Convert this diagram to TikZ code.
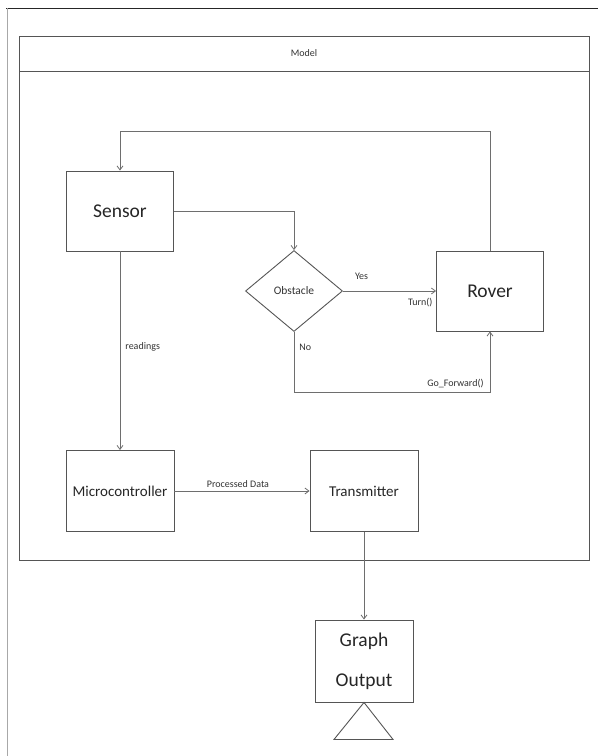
\documentclass[tikz,border=0pt]{standalone}
\usepackage{fontspec}
\setmainfont{Carlito}
\usetikzlibrary{arrows.meta, shapes.geometric, calc}
\definecolor{edgegray}{HTML}{555555}
\definecolor{linegray}{HTML}{6E6E6E}
\definecolor{framegray}{HTML}{A8A8A8}

\begin{document}
\begin{tikzpicture}[x=1pt,y=-1pt,
		box/.style={draw=edgegray, line width=0.9pt, rectangle, inner sep=0pt, text=black!85},
		bigtext/.style={font=\fontsize{19.5}{40}\selectfont},
		midtext/.style={font=\fontsize{15}{18}\selectfont},
		arr/.style={draw=linegray, line width=0.8pt, -{Straight Barb[length=4pt,width=6pt]}},
		lbl/.style={font=\fontsize{10}{12}\selectfont, text=black!80, inner sep=1pt}]
		\useasboundingbox (0,0) rectangle (598,756);
		%draw outer frame
		\draw[black!85, line width=0.9pt] (6,8) -- (598,8);
		\draw[framegray, line width=1pt] (7,8) -- (7,756);
		%draw model frame
		\draw[edgegray, line width=0.9pt] (19,36) rectangle (589,560);
		\draw[edgegray, line width=0.9pt] (19,71) -- (589,71);
		\node[lbl] (model) at (304,53) {Model};
		%draw nodes
		\node[box, bigtext, minimum width=107, minimum height=80] (sensor) at (120,211) {Sensor};
		\node[draw=edgegray, line width=0.9pt, diamond, aspect=1.2, minimum width=97, minimum height=81, inner sep=0pt,
			font=\fontsize{11.5}{14}\selectfont, text=black!80] (obstacle) at (294,291) {Obstacle};
		\node[box, bigtext, minimum width=107, minimum height=80] (rover) at (490,291) {Rover};
		\node[box, midtext, minimum width=108, minimum height=81] (micro) at (120,491) {Microcontroller};
		\node[box, midtext, minimum width=108, minimum height=81] (trans) at (364,491) {Transmitter};
		\node[box, bigtext, align=center, minimum width=98, minimum height=82] (graph) at (364,661) {Graph\\Output};
		%draw stand
		\draw[edgegray, line width=0.9pt] (graph.south) -- ++(29,37) -- ++(-59,0) -- cycle;
		%draw arrows
		\draw[arr] (rover.north) -- ++(0,-119) -| (sensor.north);
		\draw[arr] (sensor.east) -| (obstacle.north);
		\draw[arr] (obstacle.east) -- node[lbl, pos=0.2, above=10pt] {Yes}
			node[lbl, pos=0.83, below=6pt] {Turn()} (rover.west);
		\draw[arr] (obstacle.south) -- node[lbl, pos=0.25, right=4pt] {No} ++(0,60)
			-| node[lbl, pos=0.5, anchor=south east, xshift=-5pt, yshift=3pt] {Go\_Forward()} (rover.south);
		\draw[arr] (sensor) -- node[lbl, pos=0.48, right=4pt] {readings} (micro);
		\draw[arr] (micro) -- node[lbl, pos=0.47, above=2pt] {Processed Data} (trans);
		\draw[arr] (trans) -- (graph);
\end{tikzpicture}
\end{document}
